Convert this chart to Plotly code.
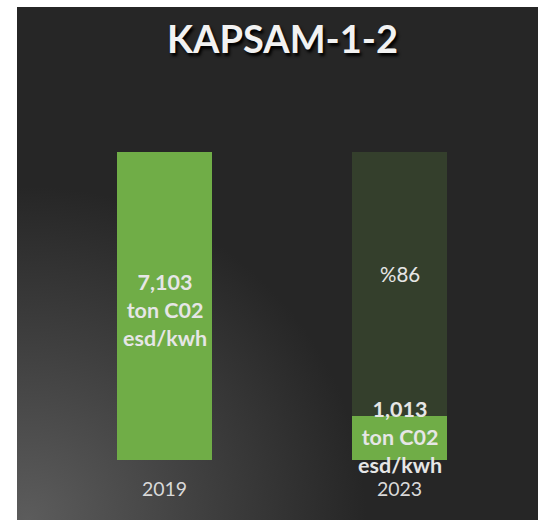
import base64
import plotly.graph_objects as go

# ---- data ----
years = ["2019", "2023"]
emissions = [7103, 1013]          # ton CO2 esd/kwh
title_text = "KAPSAM-1-2"
unit_lines = ["ton C02", "esd/kwh"]

base_value = emissions[0]
reduction_pct = round((emissions[0] - emissions[1]) / emissions[0] * 100)
remainder = [0, base_value - emissions[1]]

GREEN = "#70AD47"
DARK_GREEN = "#343F2C"
LABEL = "#E6E6E6"
FONT = "Lato"

# background gradient (radial, lighter at lower left)
svg = (
    '<svg xmlns="http://www.w3.org/2000/svg" width="521" height="513">'
    '<defs><radialGradient id="g" cx="0.02" cy="1.0" r="0.65" fx="0.02" fy="1.0">'
    '<stop offset="0" stop-color="#5c5c5c"/>'
    '<stop offset="0.55" stop-color="#3e3e3e"/>'
    '<stop offset="1" stop-color="#262626"/>'
    '</radialGradient></defs>'
    '<rect width="521" height="513" fill="#262626"/>'
    '<rect width="521" height="513" fill="url(#g)"/>'
    '</svg>'
)
bg_src = "data:image/svg+xml;base64," + base64.b64encode(svg.encode()).decode()

fig = go.Figure()
fig.add_trace(go.Bar(
    x=years, y=emissions, width=0.404,
    marker=dict(color=GREEN, line=dict(width=0)),
    hoverinfo="skip",
))
fig.add_trace(go.Bar(
    x=years, y=remainder, width=0.404,
    marker=dict(color=DARK_GREEN, line=dict(width=0)),
    hoverinfo="skip",
))

# value labels (category axis -> use category index)
for i, v in enumerate(emissions):
    fig.add_annotation(
        x=i, y=v / 2, xref="x", yref="y",
        text="<b>" + f"{v:,}" + "<br>" + "<br>".join(unit_lines) + "</b>",
        showarrow=False, align="center", yanchor="middle",
        font=dict(family=FONT, size=21.5, color=LABEL),
        yshift=-4 if v == base_value else 1,
    )
fig.add_annotation(
    x=1, y=emissions[1] + remainder[1] / 2, xref="x", yref="y",
    text=f"%{reduction_pct}", showarrow=False, yanchor="middle",
    font=dict(family=FONT, size=20.5, color=LABEL), yshift=10,
)

fig.add_annotation(
    x=(282 - 17) / 521, y=(460 - 38) / 308, xref="paper", yref="paper",
    xanchor="center", yanchor="middle",
    text="<b>" + title_text + "</b>", showarrow=False,
    font=dict(family=FONT, size=38, color="#F2F2F2",
              shadow="2px 3px 3px #000000"),
)

fig.add_layout_image(dict(
    source=bg_src, xref="paper", yref="paper",
    x=0, y=(460 - 7) / 308,
    sizex=1, sizey=513 / 308, sizing="stretch",
    xanchor="left", yanchor="top", layer="below",
))

fig.update_layout(
    width=538, height=520,
    margin=dict(l=17, r=0, t=152, b=60),
    paper_bgcolor="white", plot_bgcolor="rgba(0,0,0,0)",
    barmode="stack", showlegend=False,
    xaxis=dict(type="category", range=[-0.6277, 1.589],
               showgrid=False, zeroline=False, showline=False, ticks="",
               tickfont=dict(family=FONT, size=19.5, color="#D9D9D9"),
               ticklabelstandoff=15),
    yaxis=dict(range=[0, base_value], visible=False, showgrid=False,
               zeroline=False),
)

fig.write_html(
    "out.html",
    config={"displayModeBar": False},
    post_script="document.body.style.margin='0';document.body.style.overflow='hidden';",
)
